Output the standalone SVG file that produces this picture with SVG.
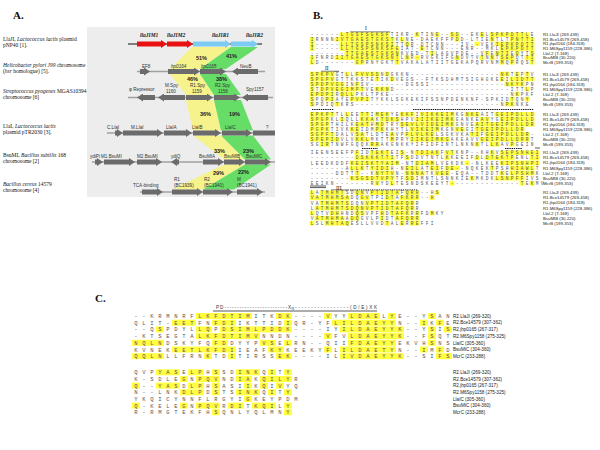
<svg xmlns="http://www.w3.org/2000/svg" width="600" height="450" viewBox="0 0 600 450">
<style>
.pl{font-family:"Liberation Serif",serif;font-weight:bold;font-size:11px;fill:#111}
.lt{font-family:"Liberation Serif",serif;font-size:5.5px;fill:#111}
.gl{font-family:"Liberation Sans",Arial,sans-serif;font-size:4.6px;fill:#333}
.gt{font-family:"Liberation Serif",serif;font-size:5.5px;font-weight:bold;font-style:italic;fill:#222}
.pc{font-family:"Liberation Sans",Arial,sans-serif;font-weight:bold;font-size:5.5px;fill:#222}
.rl{stroke:#a0a0a0;stroke-width:1.4;fill:none}
.g{stroke:#6b6b6b;stroke-width:5;marker-end:url(#hg)}
.gr{stroke:#e81010;stroke-width:5;marker-end:url(#hr)}
.gb{stroke:#7ccbf2;stroke-width:5;marker-end:url(#hb)}
.yb{fill:#f6f28c}
.gn{fill:#66dd66}
.hl rect{fill:#ffff40}
.sb{font-family:"Liberation Mono",monospace;font-size:4.5px;letter-spacing:2.3px;fill:#555}
.sc{font-family:"Liberation Mono",monospace;font-size:5.5px;letter-spacing:4.7px;fill:#555}
.lb{font-family:"Liberation Sans",Arial,sans-serif;font-size:4.3px;fill:#222}
.lc{font-family:"Liberation Sans",Arial,sans-serif;font-size:4.6px;fill:#222}
.an{stroke:#111;stroke-width:0.7}
.dt{stroke:#111;stroke-width:1.2;stroke-dasharray:1.4 0.8}
</style>
<defs>
<marker id="hg" markerUnits="userSpaceOnUse" viewBox="0 0 6 8" refX="0" refY="4" markerWidth="6" markerHeight="8" orient="auto"><path d="M0,0L6,4L0,8z" fill="#6b6b6b"/></marker>
<marker id="hr" markerUnits="userSpaceOnUse" viewBox="0 0 6 8" refX="0" refY="4" markerWidth="6" markerHeight="8" orient="auto"><path d="M0,0L6,4L0,8z" fill="#e81010"/></marker>
<marker id="hb" markerUnits="userSpaceOnUse" viewBox="0 0 6 8" refX="0" refY="4" markerWidth="6" markerHeight="8" orient="auto"><path d="M0,0L6,4L0,8z" fill="#7ccbf2"/></marker>
</defs>
<rect width="600" height="450" fill="#fff"/>

<g id="panelA">
<text class="pl" x="13" y="19">A.</text>
<rect x="87" y="27" width="188" height="170" fill="#ededed"/>
<g id="organisms">
<text class="lt" x="3" y="41">LlaJI, <tspan font-style="italic">Lactococcus lactis</tspan> plasmid</text>
<text class="lt" x="3" y="47">pNP40 [1].</text>
<text class="lt" x="3" y="67"><tspan font-style="italic">Helicobacter pylori J99</tspan> chromosome</text>
<text class="lt" x="3" y="73">(<tspan font-style="italic">hsr</tspan> homologue) [5].</text>
<text class="lt" x="3" y="92.5"><tspan font-style="italic">Streptococcus pyogenes</tspan> MGAS10394</text>
<text class="lt" x="3" y="98.5">chromosome [6]</text>
<text class="lt" x="3" y="128">LlaI, <tspan font-style="italic">Lactococcus lactis</tspan></text>
<text class="lt" x="3" y="134">plasmid pTR2030 [3].</text>
<text class="lt" x="3" y="157">BsuMI, <tspan font-style="italic">Bacillus subtilis</tspan> 168</text>
<text class="lt" x="3" y="163">chromosome [2]</text>
<text class="lt" x="3" y="186"><tspan font-style="italic">Bacillus cereus</tspan> 14579</text>
<text class="lt" x="3" y="192">chromosome [4]</text>
</g>
<g id="bands">
<polygon class="yb" points="192,47 231,47 200,69 170,69"/>
<polygon class="gn" points="231,47 258,47 226,69 200,69"/>
<polygon class="yb" points="170,74 200,74 214,95 186,95"/>
<polygon class="gn" points="200,74 226,74 241,95 214,95"/>
<polygon class="yb" points="186,100 214,100 221,130.5 193,130.5"/>
<polygon class="gn" points="214,100 241,100 253,130.5 221,130.5"/>
<polygon class="yb" points="193,135.5 221,135.5 245,159.5 224,159.5"/>
<polygon class="gn" points="221,135.5 253,135.5 271,159.5 245,159.5"/>
<polygon class="yb" points="224,164.5 245,164.5 203,189.5 172,189.5"/>
<polygon class="gn" points="245,164.5 271,164.5 234,189.5 203,189.5"/>
<text class="pc" x="196" y="60">51%</text>
<text class="pc" x="226" y="58">41%</text>
<text class="pc" x="187" y="81">46%</text>
<text class="pc" x="216" y="81">38%</text>
<text class="pc" x="200" y="116">36%</text>
<text class="pc" x="229" y="116">19%</text>
<text class="pc" x="214" y="152.5">33%</text>
<text class="pc" x="243" y="152.5">23%</text>
<text class="pc" x="213" y="175">29%</text>
<text class="pc" x="238" y="174">22%</text>
</g>
<g id="row1">
<line x1="128" y1="44" x2="262" y2="44" stroke="#111" stroke-width="1"/>
<line class="gr" x1="137" y1="44" x2="161" y2="44"/>
<line class="gr" x1="167" y1="44" x2="187" y2="44"/>
<line class="gb" x1="193" y1="44" x2="225" y2="44"/>
<line class="gb" x1="231" y1="44" x2="252" y2="44"/>
<text class="gt" x="140" y="37">llaJIM1</text>
<text class="gt" x="167" y="37">llaJIM2</text>
<text class="gt" x="212" y="37">llaJIR1</text>
<text class="gt" x="246" y="37">llaJIR2</text>
</g>
<g id="row2">
<line class="rl" x1="137" y1="71.5" x2="265" y2="71.5"/>
<line class="g" x1="140" y1="71.5" x2="144" y2="71.5"/>
<line class="g" x1="168" y1="71.5" x2="194" y2="71.5"/>
<line class="g" x1="200" y1="71.5" x2="220" y2="71.5"/>
<line class="g" x1="258" y1="71.5" x2="238" y2="71.5"/>
<text class="gl" x="142" y="67.5">EF8</text>
<text class="gl" x="171" y="67.5" font-style="italic">hp0164</text>
<text class="gl" x="201" y="67.5" font-style="italic">hp0165</text>
<text class="gl" x="240" y="67.5">NeuB</text>
</g>
<g id="row3">
<line class="rl" x1="128" y1="97.5" x2="273" y2="97.5"/>
<line class="g" x1="155" y1="97.5" x2="143" y2="97.5"/>
<line class="g" x1="185" y1="97.5" x2="164" y2="97.5"/>
<line class="g" x1="186" y1="97.5" x2="207" y2="97.5"/>
<line class="g" x1="214" y1="97.5" x2="234" y2="97.5"/>
<line class="g" x1="268" y1="97.5" x2="248" y2="97.5"/>
<text class="gl" x="129" y="91">φ Repressor</text>
<text class="gl" x="165" y="87">M.Spy</text>
<text class="gl" x="166" y="93">1160</text>
<text class="gl" x="190" y="87">R1.Spy</text>
<text class="gl" x="192" y="93">1159</text>
<text class="gl" x="215" y="87">R2.Spy</text>
<text class="gl" x="218" y="93">1158</text>
<text class="gl" x="246" y="91">Spy1157</text>
</g>
<g id="row4">
<line class="rl" x1="107" y1="133" x2="275" y2="133"/>
<line class="g" x1="115" y1="133" x2="117" y2="133"/>
<line class="g" x1="123" y1="133" x2="157" y2="133"/>
<line class="g" x1="164" y1="133" x2="186" y2="133"/>
<line class="g" x1="193" y1="133" x2="215" y2="133"/>
<line class="g" x1="222" y1="133" x2="246" y2="133"/>
<line x1="253" y1="133" x2="275" y2="133" stroke="#6b6b6b" stroke-width="5"/>
<text class="gl" x="107" y="129">C.LlaI</text>
<text class="gl" x="131" y="129">M.LlaI</text>
<text class="gl" x="166" y="129">LlaIA</text>
<text class="gl" x="192" y="129">LlaIB</text>
<text class="gl" x="225" y="129">LlaIC</text>
<text class="gl" x="266" y="129">?</text>
</g>
<g id="row5">
<line class="rl" x1="92" y1="162" x2="275" y2="162"/>
<line class="g" x1="95" y1="162" x2="97" y2="162"/>
<line class="g" x1="104" y1="162" x2="129" y2="162"/>
<line class="g" x1="137" y1="162" x2="156" y2="162"/>
<line class="g" x1="179" y1="162" x2="177" y2="162"/>
<line class="g" x1="203" y1="162" x2="218" y2="162"/>
<line class="g" x1="224" y1="162" x2="239" y2="162"/>
<line class="g" x1="245" y1="162" x2="265" y2="162"/>
<text class="gl" x="90" y="157.5">ydiPi</text>
<text class="gl" x="101" y="157.5">M1.BsuMI</text>
<text class="gl" x="137" y="157.5">M2.BsuMI</text>
<text class="gl" x="171" y="157.5">ydiQ</text>
<text class="gl" x="199" y="157.5">BsuMIA</text>
<text class="gl" x="224" y="157.5">BsuMIB</text>
<text class="gl" x="246" y="157.5">BsuMIC</text>
</g>
<g id="row6">
<line class="rl" x1="140" y1="192" x2="265" y2="192"/>
<line class="g" x1="142" y1="192" x2="157" y2="192"/>
<line class="g" x1="172" y1="192" x2="197" y2="192"/>
<line class="g" x1="203" y1="192" x2="227" y2="192"/>
<line class="g" x1="237" y1="192" x2="257" y2="192"/>
<text class="gl" x="133" y="187">TCA-binding</text>
<text class="gl" x="174" y="181">R1</text>
<text class="gl" x="174" y="187">(BC1939)</text>
<text class="gl" x="204" y="181">R2</text>
<text class="gl" x="204" y="187">(BC1940)</text>
<text class="gl" x="237" y="181">M</text>
<text class="gl" x="237" y="187">(BC1941)</text>
</g>
</g>

<g id="panelB">
<text class="pl" x="313" y="19">B.</text>
<g id="annotB">
<line class="an" x1="350" y1="32" x2="390" y2="32"/>
<text class="lt" x="365" y="30">I</text>
<line class="an" x1="321" y1="71.3" x2="339" y2="71.3"/>
<text class="lt" x="325" y="69.5">II</text>
<line class="dt" x1="312" y1="109.5" x2="334" y2="109.5"/>
<line class="dt" x1="413" y1="109.5" x2="534" y2="109.5"/>
<line class="dt" x1="362" y1="148.5" x2="378" y2="148.5"/>
<line class="dt" x1="505" y1="148.5" x2="522" y2="148.5"/>
<line class="an" x1="535" y1="148" x2="540" y2="148"/>
<line class="an" x1="310" y1="186" x2="326" y2="186"/>
<line class="an" x1="310" y1="187.6" x2="326" y2="187.6"/>
<line class="an" x1="331" y1="190" x2="349" y2="190"/>
<text class="lt" x="336" y="189.6" font-size="4.6">III</text>
<line class="dt" x1="350" y1="190" x2="417" y2="190"/>
</g>
<g id="hlB" class="hl">
<g transform="translate(309.5,32.4) scale(5,4.6)"><rect x="6" width="10" height="1"/><rect x="21" width="1" height="1"/><rect x="25" width="1" height="1"/><rect x="28" width="2" height="1"/><rect x="34" width="1" height="1"/><rect x="36" width="8" height="1"/></g>
<g transform="translate(309.5,37) scale(5,4.6)"><rect x="0" width="1" height="1"/><rect x="5" width="12" height="1"/><rect x="18" width="1" height="1"/><rect x="29" width="1" height="1"/><rect x="36" width="1" height="1"/><rect x="40" width="5" height="1"/></g>
<g transform="translate(309.5,41.6) scale(5,4.6)"><rect x="0" width="1" height="1"/><rect x="6" width="11" height="1"/><rect x="19" width="1" height="1"/><rect x="33" width="1" height="1"/><rect x="37" width="8" height="1"/></g>
<g transform="translate(309.5,46.2) scale(5,4.6)"><rect x="0" width="1" height="1"/><rect x="6" width="12" height="1"/><rect x="22" width="1" height="1"/><rect x="38" width="7" height="1"/></g>
<g transform="translate(309.5,50.8) scale(5,4.6)"><rect x="7" width="11" height="1"/><rect x="24" width="1" height="1"/><rect x="35" width="1" height="1"/><rect x="37" width="3" height="1"/><rect x="41" width="1" height="1"/><rect x="44" width="1" height="1"/></g>
<g transform="translate(309.5,55.4) scale(5,4.6)"><rect x="0" width="1" height="1"/><rect x="5" width="13" height="1"/><rect x="19" width="1" height="1"/><rect x="21" width="1" height="1"/><rect x="29" width="1" height="1"/><rect x="34" width="1" height="1"/><rect x="36" width="1" height="1"/><rect x="38" width="3" height="1"/><rect x="43" width="2" height="1"/></g>
<g transform="translate(309.5,60) scale(5,4.6)"><rect x="0" width="1" height="1"/><rect x="9" width="2" height="1"/><rect x="17" width="1" height="1"/><rect x="38" width="1" height="1"/><rect x="40" width="1" height="1"/><rect x="44" width="1" height="1"/></g>

<g transform="translate(309.5,71.7) scale(5,4.6)"><rect x="0" width="5" height="1"/><rect x="7" width="1" height="1"/><rect x="9" width="5" height="1"/><rect x="15" width="1" height="1"/><rect x="38" width="2" height="1"/><rect x="41" width="1" height="1"/><rect x="43" width="1" height="1"/></g>
<g transform="translate(309.5,76.7) scale(5,4.6)"><rect x="0" width="5" height="1"/><rect x="13" width="1" height="1"/><rect x="16" width="1" height="1"/><rect x="38" width="1" height="1"/><rect x="40" width="5" height="1"/></g>
<g transform="translate(309.5,81.7) scale(5,4.6)"><rect x="0" width="7" height="1"/><rect x="9" width="1" height="1"/><rect x="39" width="4" height="1"/></g>
<g transform="translate(309.5,86.7) scale(5,4.6)"><rect x="0" width="1" height="1"/><rect x="2" width="9" height="1"/><rect x="13" width="3" height="1"/><rect x="43" width="1" height="1"/></g>
<g transform="translate(309.5,91.7) scale(5,4.6)"><rect x="0" width="5" height="1"/><rect x="6" width="3" height="1"/><rect x="41" width="1" height="1"/></g>
<g transform="translate(309.5,96.7) scale(5,4.6)"><rect x="0" width="1" height="1"/><rect x="3" width="2" height="1"/><rect x="8" width="4" height="1"/><rect x="40" width="1" height="1"/><rect x="43" width="1" height="1"/></g>
<g transform="translate(309.5,101.7) scale(5,4.6)"><rect x="0" width="1" height="1"/><rect x="5" width="1" height="1"/><rect x="39" width="2" height="1"/></g>

<g transform="translate(309.5,112) scale(5,4.6)"><rect x="0" width="5" height="1"/><rect x="7" width="1" height="1"/><rect x="10" width="2" height="1"/><rect x="13" width="3" height="1"/><rect x="18" width="3" height="1"/><rect x="22" width="7" height="1"/><rect x="31" width="3" height="1"/><rect x="37" width="8" height="1"/></g>
<g transform="translate(309.5,117) scale(5,4.6)"><rect x="0" width="4" height="1"/><rect x="6" width="1" height="1"/><rect x="10" width="3" height="1"/><rect x="14" width="4" height="1"/><rect x="21" width="8" height="1"/><rect x="34" width="2" height="1"/><rect x="38" width="7" height="1"/></g>
<g transform="translate(309.5,122) scale(5,4.6)"><rect x="0" width="4" height="1"/><rect x="9" width="3" height="1"/><rect x="13" width="2" height="1"/><rect x="18" width="11" height="1"/><rect x="33" width="12" height="1"/></g>
<g transform="translate(309.5,127) scale(5,4.6)"><rect x="0" width="4" height="1"/><rect x="8" width="2" height="1"/><rect x="13" width="2" height="1"/><rect x="20" width="6" height="1"/><rect x="29" width="2" height="1"/><rect x="33" width="10" height="1"/></g>
<g transform="translate(309.5,132) scale(5,4.6)"><rect x="0" width="5" height="1"/><rect x="9" width="2" height="1"/><rect x="16" width="1" height="1"/><rect x="19" width="6" height="1"/><rect x="32" width="2" height="1"/><rect x="35" width="9" height="1"/></g>
<g transform="translate(309.5,137) scale(5,4.6)"><rect x="0" width="6" height="1"/><rect x="9" width="3" height="1"/><rect x="16" width="1" height="1"/><rect x="20" width="8" height="1"/><rect x="34" width="10" height="1"/></g>
<g transform="translate(309.5,142) scale(5,4.6)"><rect x="2" width="2" height="1"/><rect x="12" width="2" height="1"/><rect x="33" width="1" height="1"/><rect x="36" width="2" height="1"/><rect x="40" width="1" height="1"/></g>

<g transform="translate(309.5,150.4) scale(5,4.6)"><rect x="9" width="1" height="1"/><rect x="12" width="4" height="1"/><rect x="18" width="1" height="1"/><rect x="21" width="5" height="1"/><rect x="27" width="2" height="1"/><rect x="36" width="1" height="1"/><rect x="38" width="8" height="1"/></g>
<g transform="translate(309.5,155.5) scale(5,4.6)"><rect x="9" width="8" height="1"/><rect x="19" width="1" height="1"/><rect x="27" width="1" height="1"/><rect x="33" width="1" height="1"/><rect x="35" width="6" height="1"/><rect x="44" width="2" height="1"/></g>
<g transform="translate(309.5,160.6) scale(5,4.6)"><rect x="8" width="10" height="1"/><rect x="21" width="4" height="1"/><rect x="31" width="1" height="1"/><rect x="38" width="8" height="1"/></g>
<g transform="translate(309.5,165.7) scale(5,4.6)"><rect x="8" width="3" height="1"/><rect x="12" width="4" height="1"/><rect x="19" width="3" height="1"/><rect x="24" width="2" height="1"/><rect x="27" width="3" height="1"/><rect x="36" width="1" height="1"/><rect x="40" width="5" height="1"/></g>
<g transform="translate(309.5,170.8) scale(5,4.6)"><rect x="9" width="1" height="1"/><rect x="13" width="4" height="1"/><rect x="19" width="3" height="1"/><rect x="22" width="1" height="1"/><rect x="25" width="3" height="1"/><rect x="38" width="1" height="1"/><rect x="40" width="5" height="1"/></g>
<g transform="translate(309.5,175.9) scale(5,4.6)"><rect x="8" width="9" height="1"/><rect x="19" width="2" height="1"/><rect x="32" width="1" height="1"/><rect x="37" width="4" height="1"/><rect x="41" width="2" height="1"/></g>
<g transform="translate(309.5,181) scale(5,4.6)"><rect x="13" width="1" height="1"/><rect x="16" width="1" height="1"/><rect x="28" width="1" height="1"/><rect x="42" width="1" height="1"/><rect x="44" width="1" height="1"/></g>

<g transform="translate(309.5,190.4) scale(5,4.6)"><rect x="0" width="1" height="1"/><rect x="2" width="5" height="1"/><rect x="9" width="2" height="1"/><rect x="12" width="6" height="1"/><rect x="19" width="3" height="1"/><rect x="25" width="1" height="1"/></g>
<g transform="translate(309.5,195.5) scale(5,4.6)"><rect x="0" width="8" height="1"/><rect x="10" width="2" height="1"/><rect x="15" width="2" height="1"/><rect x="18" width="4" height="1"/><rect x="24" width="1" height="1"/></g>
<g transform="translate(309.5,200.6) scale(5,4.6)"><rect x="2" width="6" height="1"/><rect x="11" width="10" height="1"/></g>
<g transform="translate(309.5,205.7) scale(5,4.6)"><rect x="1" width="20" height="1"/></g>
<g transform="translate(309.5,210.8) scale(5,4.6)"><rect x="0" width="1" height="1"/><rect x="4" width="2" height="1"/><rect x="9" width="2" height="1"/><rect x="14" width="1" height="1"/><rect x="16" width="4" height="1"/><rect x="21" width="1" height="1"/><rect x="24" width="1" height="1"/></g>
<g transform="translate(309.5,215.9) scale(5,4.6)"><rect x="1" width="6" height="1"/><rect x="8" width="2" height="1"/><rect x="14" width="1" height="1"/><rect x="17" width="5" height="1"/></g>
<g transform="translate(309.5,221) scale(5,4.6)"><rect x="0" width="1" height="1"/><rect x="3" width="5" height="1"/><rect x="15" width="1" height="1"/><rect x="18" width="1" height="1"/><rect x="20" width="2" height="1"/></g>
</g>
<g id="seqB" class="sb">
<text x="310.65" y="36.3">------LTGSFSGKSFTIKR-KTINE--SD--EKELSPKPDTTLE</text>
<text x="310.65" y="40.9">IRNNNIVTGAESTGKSTKLNE-DAEKFFPDD-LTIENTLTPNTTI</text>
<text x="310.65" y="45.5">I-----LLTGSPSNKSITTQR-DTCNN---IV--VEKIEPKPDTT</text>
<text x="310.65" y="50.1">I-----LLTGSPSNKSFEIAT-ETCNN---ENR--MKLEPKPDTT</text>
<text x="310.65" y="54.7">-------TTGAESTGKSNKVED-TILAGVPDE--VFENTIEDYTS</text>
<text x="310.65" y="59.3">IFNRDIITGAESTGKSNTLNR-RVGKIFGNDVTVTNNTSEPQTTI</text>
<text x="310.65" y="63.9">LD-------GPRNYGKTTVAKALATIITGEKAPQRVNMMQPRQST</text>
<text x="310.65" y="75.6">SPKPVGTLLFVVSDNDGKKN------------------NKTEPTV</text>
<text x="310.65" y="80.6">SPGPVGTTKKSTETIKDVEGS--FTKSDHMTSIGHGKEEILIDTT</text>
<text x="310.65" y="85.6">SPDPVGGINFSV-------DGSSI---------------NKYKPN</text>
<text x="310.65" y="90.6">STDPVEGIMPTVEKKND-----------------------ITTLP</text>
<text x="310.65" y="95.6">EPDPIRQLLPKLTPKE------------------------NKPKF</text>
<text x="310.65" y="100.6">SPQPIAYEPVPITYKKLSGKEKIFSSNPDENKNF-SPKIDTQNY</text>
<text x="310.65" y="105.6">SPDIQTKRS-----------------------------NPKNKE</text>
<text x="310.65" y="115.9">EPKPTTLLEETTIMEKYEKKFIVIKKEIMKGNKEAITGEIPDLLD</text>
<text x="310.65" y="120.9">SPGPKLIQLLKKAKTDKSHPVIIIKEIMKGANKEAVYGEIPDLLD</text>
<text x="310.65" y="125.9">SPGPTHILKEATHMDTRYSEVLVIDEIMKGNVEAITGEIPDLLDR</text>
<text x="310.65" y="130.9">PGPKTIVKKEIDMPKKHYTLVIKEIMKGNVEGITGEIPDLLDR</text>
<text x="310.65" y="135.9">SGPFTDALVSATLDTEAVPFLVLKELSGKVKATIFGEIPDLLDR-</text>
<text x="310.65" y="140.9">SPEPIDVLVKKLMKTTMPRYIIKEIMKGAKEAVVGEIPDLLDRRT</text>
<text x="310.65" y="145.9">SGIRTNWFGQQKRRAKGNKKYIFIDFINTLNKNKTLLKAVPGEIN</text>
<text x="310.65" y="154.3">IEENSEEFPFIDTEKTEIS-NTDIAKFVTKNP--KHKVSEPSNHEI</text>
<text x="310.65" y="159.4">---------DSKKKTTITFSDDVTNTLKKEEIFDLDTEKTPENLTI</text>
<text x="310.65" y="164.5">LEEDKDDFKEISKTYAIM-NTDIAMLVEKDK--NLKEEKIPSNHPI</text>
<text x="310.65" y="169.6">-------ALLKTYIDIH-NEILATEIFDE--NQKEKTPSHHIAWLT</text>
<text x="310.65" y="174.7">-----DDTTT--KNYTVN-NNNATKVEE-EQA--TDDTKELPSHMK</text>
<text x="310.65" y="179.8">--------KSGSDTVPYTFSDIMNTLSNNKIEKMKDKLSNPFFIVS</text>
<text x="310.65" y="184.9">EEIKN-------RVYDLTESNDSKEEYT--------------TEKMV</text>
<text x="310.65" y="194.3">LATMHMTSDQNVPTIDTAFQRR--HS</text>
<text x="310.65" y="199.4">VATMHMSADQGVTPIDTAFKRR--H</text>
<text x="310.65" y="204.5">VATMHMTSDQNVPTIDTAFQRR</text>
<text x="310.65" y="209.6">LATMHMTSDQNVPTIDTAFQRR</text>
<text x="310.65" y="214.7">LQTVDHHNDQSVPFHDTAFKRRFDMKY</text>
<text x="310.65" y="219.8">VATMHMAADQGVLPIDTAFQRR</text>
<text x="310.65" y="224.9">LSLMHTAQESLLVVDTALERREFFI</text>
</g>
<g id="labelsB" class="lb">
<text x="543" y="36.2">R1.LlaJI (269-439)</text>
<text x="543" y="40.8">R1.Bce14579 (269-458)</text>
<text x="543" y="45.4">R1.jhp0164 (184-318)</text>
<text x="543" y="50">R1.M6Spy1159 (228-386)</text>
<text x="543" y="54.6">LlaI.2 (7-168)</text>
<text x="543" y="59.2">BsuMIB (30-220)</text>
<text x="543" y="63.8">McrB (199-353)</text>
<text x="543" y="75.5">R1.LlaJI (269-439)</text>
<text x="543" y="80.5">R1.Bce14579 (269-458)</text>
<text x="543" y="85.5">R1.jhp0164 (184-318)</text>
<text x="543" y="90.5">R1.M6Spy1159 (228-386)</text>
<text x="543" y="95.5">LlaI.2 (7-168)</text>
<text x="543" y="100.5">BsuMIB (30-220)</text>
<text x="543" y="105.5">McrB (199-353)</text>
<text x="543" y="115.8">R1.LlaJI (269-439)</text>
<text x="543" y="120.8">R1.Bce14579 (269-458)</text>
<text x="543" y="125.8">R1.jhp0164 (184-318)</text>
<text x="543" y="130.8">R1.M6Spy1159 (228-386)</text>
<text x="543" y="135.8">LlaI.2 (7-168)</text>
<text x="543" y="140.8">BsuMIB (30-220)</text>
<text x="543" y="145.8">McrB (199-353)</text>
<text x="543" y="154.2">R1.LlaJI (269-439)</text>
<text x="543" y="159.3">R1.Bce14579 (269-458)</text>
<text x="543" y="164.4">R1.jhp0164 (184-318)</text>
<text x="543" y="169.5">R1.M6Spy1159 (228-386)</text>
<text x="543" y="174.6">LlaI.2 (7-168)</text>
<text x="543" y="179.7">BsuMIB (30-220)</text>
<text x="543" y="184.8">McrB (199-353)</text>
<text x="543" y="194.2">R1.LlaJI (269-439)</text>
<text x="543" y="199.3">R1.Bce14579 (269-458)</text>
<text x="543" y="204.4">R1.jhp0164 (184-318)</text>
<text x="543" y="209.5">R1.M6Spy1159 (228-386)</text>
<text x="543" y="214.6">LlaI.2 (7-168)</text>
<text x="543" y="219.7">BsuMIB (30-220)</text>
<text x="543" y="224.8">McrB (199-353)</text>
</g>
</g>

<g id="panelC">
<text class="pl" x="95" y="302">C.</text>
<g id="motif">
<text class="gl" x="216" y="308.5" font-size="6" textLength="75" lengthAdjust="spacing">PD-------------------------X</text>
<text class="gl" x="291.5" y="310" font-size="3.5">n</text>
<text class="gl" x="295" y="308.5" font-size="6" textLength="82" lengthAdjust="spacing">-----------------(D/E)XK</text>
<line class="an" x1="213" y1="311" x2="377" y2="311"/>
</g>
<g id="hlC" class="hl">
<g transform="translate(132,313) scale(8,6)"><rect x="8" width="7" height="1"/><rect x="18" width="2" height="1"/><rect x="24" width="1" height="1"/><rect x="27" width="4" height="1"/><rect x="32" width="1" height="1"/><rect x="37" width="1" height="1"/></g>
<g transform="translate(132,319.7) scale(8,6)"><rect x="5" width="3" height="1"/><rect x="10" width="3" height="1"/><rect x="19" width="1" height="1"/><rect x="25" width="8" height="1"/><rect x="36" width="1" height="1"/><rect x="38" width="1" height="1"/></g>
<g transform="translate(132,326.4) scale(8,6)"><rect x="3" width="1" height="1"/><rect x="8" width="2" height="1"/><rect x="11" width="6" height="1"/><rect x="17" width="3" height="1"/><rect x="26" width="8" height="1"/><rect x="37" width="1" height="1"/><rect x="39" width="1" height="1"/></g>
<g transform="translate(132,333.1) scale(8,6)"><rect x="8" width="8" height="1"/><rect x="24" width="1" height="1"/><rect x="27" width="7" height="1"/><rect x="37" width="1" height="1"/></g>
<g transform="translate(132,339.8) scale(8,6)"><rect x="0" width="4" height="1"/><rect x="10" width="2" height="1"/><rect x="16" width="2" height="1"/><rect x="19" width="1" height="1"/><rect x="27" width="6" height="1"/><rect x="37" width="1" height="1"/></g>
<g transform="translate(132,346.5) scale(8,6)"><rect x="5" width="8" height="1"/><rect x="17" width="2" height="1"/><rect x="24" width="1" height="1"/><rect x="26" width="7" height="1"/><rect x="36" width="1" height="1"/><rect x="38" width="1" height="1"/></g>
<g transform="translate(132,353.2) scale(8,6)"><rect x="0" width="4" height="1"/><rect x="9" width="1" height="1"/><rect x="12" width="1" height="1"/><rect x="18" width="2" height="1"/><rect x="26" width="8" height="1"/><rect x="38" width="2" height="1"/></g>

<g transform="translate(132,369.3) scale(8,6)"><rect x="3" width="3" height="1"/><rect x="7" width="2" height="1"/><rect x="10" width="1" height="1"/><rect x="13" width="3" height="1"/><rect x="17" width="1" height="1"/><rect x="19" width="1" height="1"/></g>
<g transform="translate(132,376) scale(8,6)"><rect x="6" width="1" height="1"/><rect x="8" width="3" height="1"/><rect x="13" width="2" height="1"/><rect x="16" width="2" height="1"/><rect x="18" width="2" height="1"/></g>
<g transform="translate(132,382.6) scale(8,6)"><rect x="0" width="1" height="1"/><rect x="3" width="3" height="1"/><rect x="7" width="2" height="1"/><rect x="10" width="1" height="1"/><rect x="14" width="1" height="1"/><rect x="16" width="1" height="1"/><rect x="18" width="1" height="1"/></g>
<g transform="translate(132,389.3) scale(8,6)"><rect x="6" width="3" height="1"/><rect x="10" width="1" height="1"/><rect x="13" width="3" height="1"/><rect x="17" width="1" height="1"/><rect x="19" width="1" height="1"/></g>
<g transform="translate(132,396) scale(8,6)"><rect x="14" width="1" height="1"/></g>
<g transform="translate(132,402.6) scale(8,6)"><rect x="0" width="1" height="1"/><rect x="6" width="1" height="1"/><rect x="8" width="3" height="1"/><rect x="12" width="2" height="1"/><rect x="15" width="3" height="1"/><rect x="19" width="1" height="1"/></g>
<g transform="translate(132,409.3) scale(8,6)"><rect x="10" width="1" height="1"/><rect x="19" width="1" height="1"/></g>
</g>
<g id="seqC" class="sc">
<text x="134.35" y="318">--KRMNRFLKFDTIMITKDK----VYYLDAELYE--YSAN</text>
<text x="134.35" y="324.7">QLIT-EETFNFDIIKTTIDIQR-YFLILDAEYYN--IKFE</text>
<text x="134.35" y="331.4">--QSPDYLLQPDSIMLPDDK----IYILDAEYYK--YSIS</text>
<text x="134.35" y="338.1">-KTSEGTALKFDTIMVNNDN----VFVLDAEYYK--FSQT</text>
<text x="134.35" y="344.8">NQLNDSKYFQFDDYYPVSELRN--QIIFDAEYYEKVHSNS</text>
<text x="134.35" y="351.5">KVNEKEETLKFDIIEAFKYKEEKYFLILDAETYN--IMFD</text>
<text x="134.35" y="358.2">QQLNLLFRNKTDITIRSSEK----ILIVDAEYYK--SIFS</text>
<text x="134.35" y="374.3">QVPYASELPHSSDINKQITY</text>
<text x="134.35" y="381">K-SDLEGNPQVNDIAKQILYR</text>
<text x="134.35" y="387.6">Q--YASDLPHSASIIKQIVYQ</text>
<text x="134.35" y="394.3">N--LNKDLPDSTSINKQITY</text>
<text x="134.35" y="401">YKQICYNNFLRGYIGKEYPDM</text>
<text x="134.35" y="407.6">Q-KELEGNPQVRDITKQILY</text>
<text x="134.35" y="414.3">R-RMGTEKFHSQNLYQLMNY</text>
</g>
<g id="labelsC" class="lc">
<text x="453" y="317.7">R2.LlaJI (269-320)</text>
<text x="453" y="324.4">R2.Bce14579 (307-362)</text>
<text x="453" y="331.1">R2.jhp0165 (267-317)</text>
<text x="453" y="337.8">R2.M6Spy1158 (275-325)</text>
<text x="453" y="344.5">LlaIC (305-360)</text>
<text x="453" y="351.2">BsuMIC (304-360)</text>
<text x="453" y="357.9">McrC (233-288)</text>
<text x="453" y="374">R2.LlaJI (269-320)</text>
<text x="453" y="380.7">R2.Bce14579 (307-362)</text>
<text x="453" y="387.3">R2.jhp0165 (267-317)</text>
<text x="453" y="394">R2.M6Spy1158 (275-325)</text>
<text x="453" y="400.7">LlaIC (305-360)</text>
<text x="453" y="407.3">BsuMIC (304-360)</text>
<text x="453" y="414">McrC (233-288)</text>
</g>
</g>
</svg>
